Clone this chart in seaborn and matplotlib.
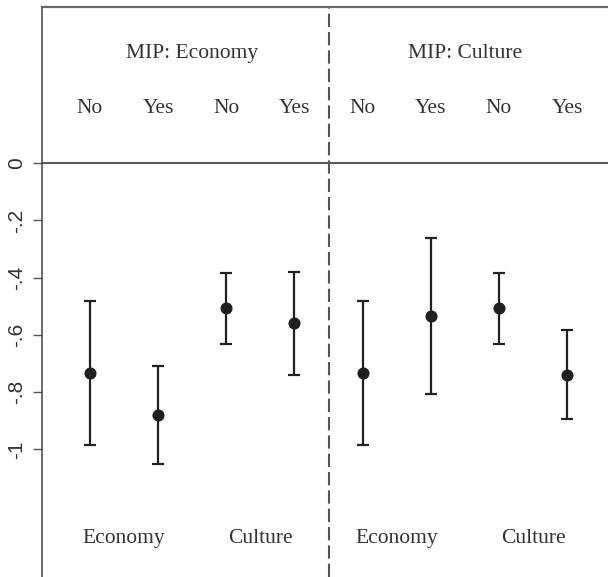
import matplotlib
matplotlib.use("Agg")
import matplotlib.pyplot as plt
import seaborn as sns
import pandas as pd

# Estimates with 95% confidence bounds, by MIP panel, issue domain and group
panels = ["MIP: Economy", "MIP: Culture"]
domains = ["Economy", "Economy", "Culture", "Culture",
           "Economy", "Economy", "Culture", "Culture"]
groups = ["No", "Yes", "No", "Yes", "No", "Yes", "No", "Yes"]
estimate = [-0.732, -0.881, -0.506, -0.559, -0.733, -0.535, -0.507, -0.740]
lower = [-0.985, -1.051, -0.631, -0.740, -0.985, -0.806, -0.632, -0.894]
upper = [-0.481, -0.709, -0.384, -0.380, -0.481, -0.262, -0.384, -0.584]
yticks = [0, -0.2, -0.4, -0.6, -0.8, -1]
ytick_labels = ["0", "-.2", "-.4", "-.6", "-.8", "-1"]

df = pd.DataFrame({
    "pos": list(range(1, len(estimate) + 1)),
    "domain": domains,
    "group": groups,
    "estimate": estimate,
    "lower": lower,
    "upper": upper,
})

sns.set_theme(style="white")
plt.rcParams["font.family"] = ["Liberation Sans", "DejaVu Sans"]

ink = "#231f20"
txt = "#333333"
serif = ["Liberation Serif", "DejaVu Serif"]

fig = plt.figure(figsize=(6.08, 5.77), dpi=100)
ax = fig.add_axes([42.3 / 608, 0.0, 1 - 42.3 / 608, 1 - 7 / 577])

# reference line at zero and panel divider
ax.axhline(0, color="#5a5a5a", lw=1.5, zorder=1)
ax.axvline(4.5, color="#555555", lw=1.5, ls=(0, (6.4, 2.4)), zorder=1)

# confidence intervals and point estimates
ax.errorbar(df["pos"], df["estimate"],
            yerr=[df["estimate"] - df["lower"], df["upper"] - df["estimate"]],
            fmt="none", ecolor=ink, elinewidth=1.6, capsize=4.4, capthick=1.6,
            zorder=2)
sns.scatterplot(data=df, x="pos", y="estimate", ax=ax, color=ink, s=76,
                edgecolor=ink, linewidth=0, zorder=3, legend=False)

ax.set_xlim(0.3, 8.6)
ax.set_ylim(-1.4465, 0.5465)
ax.set_xlabel("")
ax.set_ylabel("")
ax.set_xticks([])
ax.set_yticks(yticks)
ax.set_yticklabels(ytick_labels, rotation=90, va="center", fontsize=15,
                   color=txt)
ax.tick_params(axis="y", direction="out", length=6.5, width=1.0,
               color="#555555", pad=5.0, left=True)

for side in ["right", "bottom"]:
    ax.spines[side].set_visible(False)
ax.spines["left"].set_color("#444444")
ax.spines["left"].set_linewidth(1.1)
ax.spines["top"].set_color("#6a6a6a")
ax.spines["top"].set_linewidth(1.6)

# panel titles
for i, title in enumerate(panels):
    ax.text(2.5 + 4 * i, 0.369, title, ha="center", va="baseline",
            fontsize=15.5, color=txt, family=serif)

# group labels above each estimate
for p, g in zip(df["pos"], df["group"]):
    ax.text(p, 0.176, g, ha="center", va="baseline", fontsize=15.5,
            color=txt, family=serif)

# issue-domain labels below each pair
pairs = df.groupby((df["pos"] - 1) // 2)
for _, sub in pairs:
    ax.text(sub["pos"].mean(), -1.328, sub["domain"].iloc[0], ha="center",
            va="baseline", fontsize=15.5, color=txt, family=serif)

fig.savefig("out.png", dpi=100)
